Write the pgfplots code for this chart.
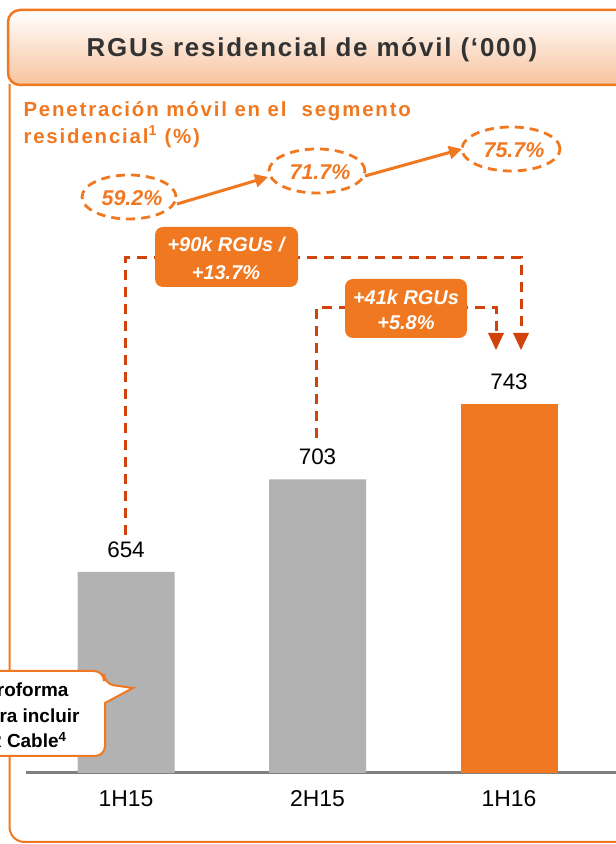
\documentclass[border=0pt]{standalone}
\usepackage{fontspec}
\setmainfont{Liberation Sans}
\newfontfamily\titlefont[LetterSpace=7]{Liberation Sans}
\newfontfamily\penfont[LetterSpace=9]{Liberation Sans}
\usepackage{pgfplots}
\pgfplotsset{compat=1.18}
\usetikzlibrary{arrows.meta}
\definecolor{org}{HTML}{F07820}
\definecolor{dred}{HTML}{D2430C}
\definecolor{barg}{HTML}{B2B2B2}
\definecolor{peach}{HTML}{F7C39D}
\definecolor{axg}{HTML}{7F7F7F}
\definecolor{ttl}{HTML}{333333}
\begin{document}
\begin{tikzpicture}
\useasboundingbox (0,0) rectangle (616bp,844bp);
\clip (0,0) rectangle (616bp,844bp);
% outer frame
\draw[org, line width=2bp, rounded corners=15bp] (9.5bp,760bp) -- (9.5bp,2bp) -- (640bp,2bp);
% title box
\shade[top color=white, bottom color=peach, rounded corners=12bp] (8bp,759bp) rectangle (640bp,834bp);
\draw[org, line width=2.5bp, rounded corners=12bp] (8bp,759bp) rectangle (640bp,834bp);
\node[anchor=base, text=ttl, font=\titlefont\bfseries\fontsize{26}{30}\selectfont] at (312bp,787.3bp) {RGUs residencial de móvil (‘000)};

\begin{axis}[at={(26bp,71bp)}, anchor=south west, scale only axis,
  width=590bp, height=450bp,
  xmin=-0.5222, xmax=2.5587, ymin=547.5, ymax=785.8,
  axis x line*=bottom, axis y line=none,
  x axis line style={axg, line width=3bp},
  xtick={0,1,2}, xticklabels={1H15,2H15,1H16},
  major tick length=0pt,
  xticklabel style={font=\fontsize{23}{27}\selectfont, yshift=-14bp},
  /pgf/number format/assume math mode=true,
  nodes near coords,
  every node near coord/.append style={font=\fontsize{22.5}{27}\selectfont, black, anchor=south, inner sep=0pt, yshift=14bp},
]
\addplot[ybar, bar width=97bp, bar shift=0pt, fill=barg, draw=none] coordinates {(0,654) (1,703)};
\addplot[ybar, bar width=97bp, bar shift=0pt, fill=org, draw=none] coordinates {(2,743)};
\end{axis}

\begin{scope}[x=1bp, y=-1bp, shift={(0bp,844bp)}]
% penetration header
\node[anchor=base west, text=org, font=\penfont\bfseries\fontsize{20.5}{24}\selectfont] at (20,116.7) {Penetración móvil en el \ segmento};
\node[anchor=base west, text=org, font=\penfont\bfseries\fontsize{20.5}{24}\selectfont] at (20,143.3) {residencial\textsuperscript{1} (\%)};
% ellipses
\draw[org, line width=2.8bp, dash pattern=on 9bp off 6bp] (129,197) ellipse [x radius=47bp, y radius=22bp];
\draw[org, line width=2.8bp, dash pattern=on 9bp off 6bp] (317,171) ellipse [x radius=48bp, y radius=22bp];
\draw[org, line width=2.8bp, dash pattern=on 9bp off 6bp] (511,149) ellipse [x radius=49bp, y radius=22bp];
\node[anchor=base, text=org, font=\bfseries\itshape\fontsize{21.5}{25}\selectfont] at (132,206) {59.2\%};
\node[anchor=base, text=org, font=\bfseries\itshape\fontsize{21.5}{25}\selectfont] at (320,180) {71.7\%};
\node[anchor=base, text=org, font=\bfseries\itshape\fontsize{21.5}{25}\selectfont] at (514,158) {75.7\%};
% arrows
\draw[org, line width=3bp, -{Triangle[length=13bp,width=13bp]}] (177,204) -- (268,177);
\draw[org, line width=3bp, -{Triangle[length=13bp,width=13bp]}] (365,176) -- (462,149);
% dashed connectors
\draw[dred, line width=3bp, dash pattern=on 10bp off 7bp] (125,535) -- (125,258) -- (521,258) -- (521,334);
\draw[dred, line width=3bp, dash pattern=on 10bp off 7bp] (316,438) -- (316,308) -- (496,308) -- (496,334);
\fill[dred] (513,333) -- (529,333) -- (521,350) -- cycle;
\fill[dred] (488,333) -- (504,333) -- (496,350) -- cycle;
% boxes
\fill[org, rounded corners=8bp] (155,227) rectangle (298,287);
\node[anchor=base, text=white, font=\bfseries\itshape\fontsize{20}{24}\selectfont] at (226,251.7) {+90k RGUs /};
\node[anchor=base, text=white, font=\bfseries\itshape\fontsize{20}{24}\selectfont] at (226,280) {+13.7\%};
\fill[org, rounded corners=8bp] (345,279) rectangle (467,338);
\node[anchor=base, text=white, font=\bfseries\itshape\fontsize{20}{24}\selectfont] at (406,305) {+41k RGUs};
\node[anchor=base, text=white, font=\bfseries\itshape\fontsize{20}{24}\selectfont] at (406,330) {+5.8\%};
% callout
\draw[org, line width=2bp, fill=white, rounded corners=10bp] (-40,671) -- (104,671) -- (104,684) [sharp corners] -- (133,688) -- (105,703) [rounded corners=10bp] -- (105,756) -- (-40,756) -- cycle;
\node[anchor=base east, font=\bfseries\fontsize{19}{22}\selectfont] at (72,697) {Proforma};
\node[anchor=base east, font=\bfseries\fontsize{19}{22}\selectfont] at (83,723) {para incluir};
\node[anchor=base east, font=\bfseries\fontsize{19}{22}\selectfont] at (70,748) {R Cable\textsuperscript{4}};
\end{scope}
\end{tikzpicture}
\end{document}
